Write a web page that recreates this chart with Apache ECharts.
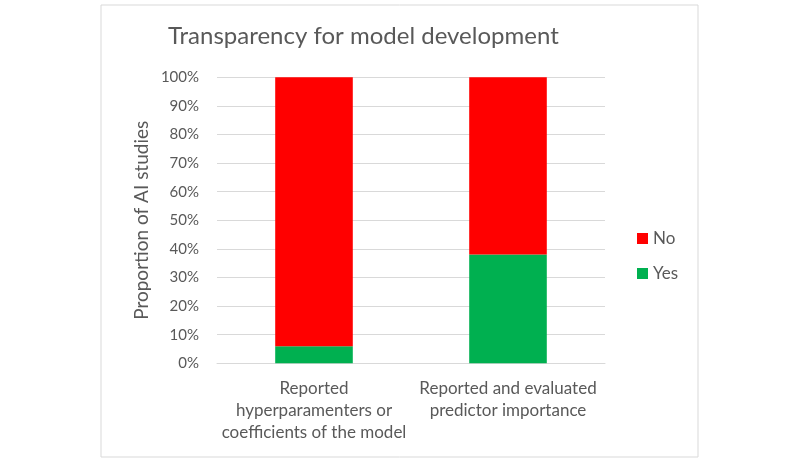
<!DOCTYPE html>
<html><head><meta charset="utf-8">
<script src="https://cdn.jsdelivr.net/npm/echarts@6/dist/echarts.min.js"></script>
<style>html,body{margin:0;padding:0;background:#fff}#c{width:800px;height:459px}</style>
</head><body><div id="c"></div>
<script>
const categories = ['Reported\nhyperparamenters or\ncoefficients of the model', 'Reported and evaluated\npredictor importance'];
const yesValues = [6, 38];
const noValues = [94, 62];
const yTicks = [0, 10, 20, 30, 40, 50, 60, 70, 80, 90, 100];
const titleText = 'Transparency for model development';
const yAxisName = 'Proportion of AI studies';

const FONT = 'Lato';
const TXT = '#595959';
const chart = echarts.init(document.getElementById('c'), null, {renderer: 'canvas'});
chart.setOption({
  animation: false,
  textStyle: {fontFamily: FONT},
  graphic: [{
    type: 'rect', shape: {x: 101, y: 5, width: 597, height: 452},
    style: {fill: 'none', stroke: '#d9d9d9', lineWidth: 1}, silent: true, z: -1
  }],
  title: {
    text: titleText, left: 163, top: 19,
    textStyle: {fontFamily: FONT, fontSize: 24, fontWeight: 'normal', color: TXT}
  },
  legend: {
    orient: 'vertical', left: 637, top: 230, padding: 0, itemWidth: 11, itemHeight: 11, itemGap: 18,
    icon: 'rect', data: ['No', 'Yes'],
    textStyle: {fontFamily: FONT, fontSize: 17, color: TXT}
  },
  grid: {left: 217, right: 195, top: 77.3, bottom: 95.7, containLabel: false},
  xAxis: {
    type: 'category', data: categories,
    axisLine: {show: true, lineStyle: {color: '#d9d9d9'}},
    axisTick: {show: false},
    axisLabel: {fontFamily: FONT, fontSize: 17, color: TXT, lineHeight: 22, margin: 14, interval: 0}
  },
  yAxis: {
    type: 'value', min: yTicks[0], max: yTicks[yTicks.length - 1], interval: 10,
    name: yAxisName, nameLocation: 'middle', nameGap: 66, nameRotate: 90,
    nameTextStyle: {fontFamily: FONT, fontSize: 19, color: TXT},
    axisLine: {show: false}, axisTick: {show: false},
    splitLine: {lineStyle: {color: '#d9d9d9'}},
    axisLabel: {fontFamily: FONT, fontSize: 15, color: TXT, margin: 18, formatter: v => v + '%'}
  },
  series: [
    {name: 'Yes', type: 'bar', stack: 's', data: yesValues, barWidth: '40%', itemStyle: {color: '#00B050'}},
    {name: 'No', type: 'bar', stack: 's', data: noValues, barWidth: '40%', itemStyle: {color: '#FF0000'}}
  ]
});
</script></body></html>
